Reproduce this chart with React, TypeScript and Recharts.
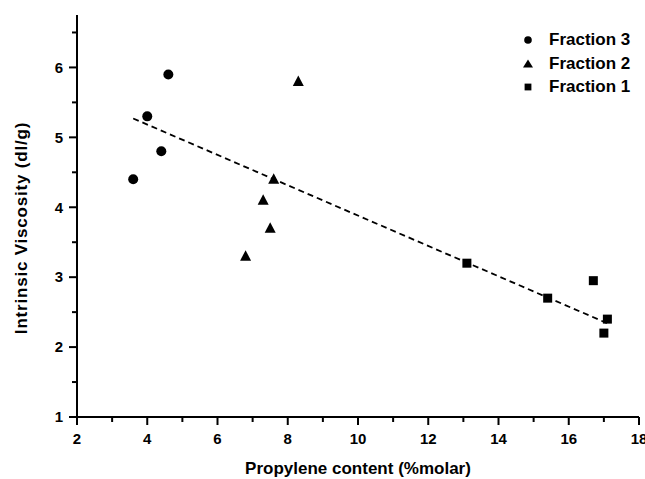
import { ScatterChart, Scatter, XAxis, YAxis, ReferenceLine, Legend } from 'recharts'

// Intrinsic viscosity vs propylene content, per fraction
const fraction3X = [3.6, 4.0, 4.4, 4.6]
const fraction3Y = [4.4, 5.3, 4.8, 5.9]
const fraction2X = [6.8, 7.3, 7.5, 7.6, 8.3]
const fraction2Y = [3.3, 4.1, 3.7, 4.4, 5.8]
const fraction1X = [13.1, 15.4, 16.7, 17.0, 17.1]
const fraction1Y = [3.2, 2.7, 2.95, 2.2, 2.4]

// dashed trend line end points
const trendX = [3.6, 17.1]
const trendY = [5.27, 2.34]

const xTicks = [2, 3, 4, 5, 6, 7, 8, 9, 10, 11, 12, 13, 14, 15, 16, 17, 18]
const yTicks = [1, 1.5, 2, 2.5, 3, 3.5, 4, 4.5, 5, 5.5, 6, 6.5]

const legendOrder = ['Fraction 3', 'Fraction 2', 'Fraction 1']

const toPoints = (xs: number[], ys: number[]) => xs.map((x, i) => ({ x, y: ys[i] }))

const fraction3 = toPoints(fraction3X, fraction3Y)
const fraction2 = toPoints(fraction2X, fraction2Y)
const fraction1 = toPoints(fraction1X, fraction1Y)

const FONT = '"Liberation Sans", Arial, sans-serif'
const TICK_FONT = '"Liberation Sans Narrow", "Arial Narrow", "Liberation Sans", Arial, sans-serif'

const Circle = ({ cx, cy }: any) => <circle cx={cx} cy={cy} r={5} fill="#000" />
const Triangle = ({ cx, cy }: any) => (
  <polygon points={`${cx},${cy - 6} ${cx - 5.5},${cy + 4.5} ${cx + 5.5},${cy + 4.5}`} fill="#000" />
)
const Square = ({ cx, cy }: any) => <rect x={cx - 4.5} y={cy - 4.5} width={9} height={9} fill="#000" />

const XTick = ({ x, y, payload }: any) => {
  const major = payload.value % 2 === 0
  return (
    <g>
      <line x1={x} x2={x} y1={y} y2={y + (major ? 8 : 5)} stroke="#000" strokeWidth={2} />
      {major && (
        <text x={x} y={y + 22} dy="0.35em" textAnchor="middle" fontSize={15} fontWeight="bold" fontFamily={TICK_FONT} fill="#000">
          {payload.value}
        </text>
      )}
    </g>
  )
}

const YTick = ({ x, y, payload }: any) => {
  const major = Number.isInteger(payload.value)
  return (
    <g>
      <line x1={x - (major ? 8 : 5)} x2={x} y1={y} y2={y} stroke="#000" strokeWidth={2} />
      {major && (
        <text x={x - 14} y={y} dy="0.35em" textAnchor="end" fontSize={15} fontWeight="bold" fontFamily={TICK_FONT} fill="#000">
          {payload.value}
        </text>
      )}
    </g>
  )
}

const LegendIcon = ({ type }: { type: string }) => (
  <svg width={14} height={14}>
    {type === 'circle' && <circle cx={7} cy={7} r={3.8} fill="#000" />}
    {type === 'triangle' && <polygon points="7,2.5 2,10.5 12,10.5" fill="#000" />}
    {type === 'square' && <rect x={3.6} y={3.6} width={6.8} height={6.8} fill="#000" />}
  </svg>
)

const renderLegend = ({ payload }: any) => {
  const items = [...(payload ?? [])].sort(
    (a: any, b: any) => legendOrder.indexOf(a.value) - legendOrder.indexOf(b.value),
  )
  return (
    <div>
      {items.map((item: any) => (
        <div key={item.value} style={{ display: 'flex', alignItems: 'center', height: 23.7 }}>
          <LegendIcon type={item.type} />
          <span style={{ marginLeft: 14, fontSize: 17, fontWeight: 'bold', fontFamily: FONT, color: '#000' }}>
            {item.value}
          </span>
        </div>
      ))}
    </div>
  )
}

const XTitle = ({ viewBox }: any) => (
  <text
    x={viewBox.x + viewBox.width / 2}
    y={viewBox.y + viewBox.height - 5}
    textAnchor="middle"
    fontSize={17}
    fontWeight="bold"
    fontFamily={FONT}
    fill="#000"
  >
    Propylene content (%molar)
  </text>
)

const YTitle = ({ viewBox }: any) => {
  const cx = 21
  const cy = viewBox.y + viewBox.height / 2 + 12
  return (
    <text
      x={cx}
      y={cy}
      dy="0.35em"
      transform={`rotate(-90 ${cx} ${cy})`}
      textAnchor="middle"
      fontSize={17}
      fontWeight="bold"
      fontFamily={FONT}
      letterSpacing={0.8}
      fill="#000"
    >
      Intrinsic Viscosity (dl/g)
    </text>
  )
}

export default function App() {
  return (
    <div style={{ width: 645, height: 479, background: '#fff', fontFamily: FONT }}>
      <style>{'body{margin:0}'}</style>
      <ScatterChart width={645} height={479} margin={{ top: 15, right: 6, bottom: 0, left: 0 }}>
        <XAxis
          type="number"
          dataKey="x"
          domain={[2, 18]}
          ticks={xTicks}
          interval={0}
          height={62}
          tickSize={0}
          tickMargin={0}
          tickLine={false}
          tick={<XTick />}
          axisLine={{ stroke: '#000', strokeWidth: 2 }}
          label={{ content: XTitle } as any}
        />
        <YAxis
          type="number"
          dataKey="y"
          domain={[1, 6.75]}
          ticks={yTicks}
          interval={0}
          width={77}
          tickSize={0}
          tickMargin={0}
          tickLine={false}
          tick={<YTick />}
          axisLine={{ stroke: '#000', strokeWidth: 2 }}
          label={{ content: YTitle } as any}
        />
        <ReferenceLine
          segment={[
            { x: trendX[0], y: trendY[0] },
            { x: trendX[1], y: trendY[1] },
          ]}
          stroke="#000"
          strokeWidth={1.8}
          strokeDasharray="6 4"
        />
        <Scatter name="Fraction 3" data={fraction3} shape={Circle} legendType="circle" isAnimationActive={false} />
        <Scatter name="Fraction 2" data={fraction2} shape={Triangle} legendType="triangle" isAnimationActive={false} />
        <Scatter name="Fraction 1" data={fraction1} shape={Square} legendType="square" isAnimationActive={false} />
        <Legend
          layout="vertical"
          align="center"
          verticalAlign="middle"
          content={renderLegend}
          wrapperStyle={{ position: 'absolute', left: 521, top: 28, width: 124 }}
        />
      </ScatterChart>
    </div>
  )
}
